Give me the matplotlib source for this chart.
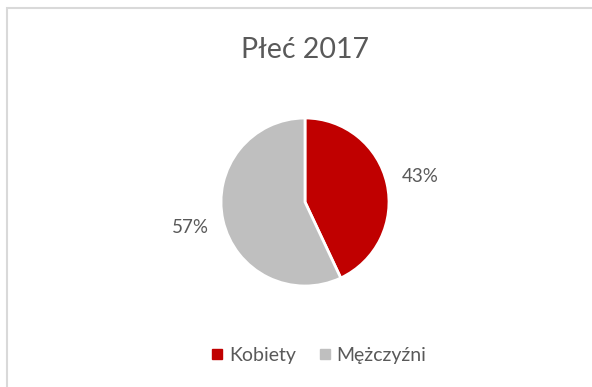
import matplotlib.pyplot as plt
from matplotlib.lines import Line2D
from matplotlib.patches import Rectangle

# Gender split, 2017
categories = ['Kobiety', 'Mężczyźni']
shares = [43, 57]
colors = ['#C00000', '#BFBFBF']
title = 'Płeć 2017'

plt.rcParams['font.family'] = ['Lato', 'DejaVu Sans']
txt = '#595959'

W, H = 592, 387
fig = plt.figure(figsize=(W / 100, H / 100), dpi=100)

# chart area border (only top and left fall inside the image)
fig.patches.append(Rectangle((7 / W, -0.1), 1.2, 1.1 - 8 / H, transform=fig.transFigure,
                             fill=False, edgecolor='#D9D9D9', linewidth=1.5))

cx, cy, r = 305, 202, 84
ax = fig.add_axes([(cx - r) / W, (H - cy - r) / H, 2 * r / W, 2 * r / H])
wedges, texts, autotexts = ax.pie(
    shares, colors=colors, startangle=90, counterclock=False,
    autopct='%1.0f%%', pctdistance=1.4,
    wedgeprops=dict(edgecolor='white', linewidth=2))
for t in autotexts:
    t.set_color(txt)
    t.set_fontsize(13.5)
ax.set_aspect('equal')
ax.set_xlim(-1, 1)
ax.set_ylim(-1, 1)
ax.axis('off')

fig.text(cx / W, 1 - 50 / H, title, ha='center', va='center', fontsize=20.5, color=txt)

handles = [Line2D([], [], marker='s', linestyle='none', markersize=7,
                  markerfacecolor=c, markeredgecolor=c) for c in colors]
fig.legend(handles, categories, loc='center', ncol=2, frameon=False,
           bbox_to_anchor=(317 / W, 1 - 355 / H), fontsize=14,
           labelcolor=txt, handletextpad=0.1, columnspacing=1.0, handlelength=1)

fig.savefig('out.png', dpi=100)
